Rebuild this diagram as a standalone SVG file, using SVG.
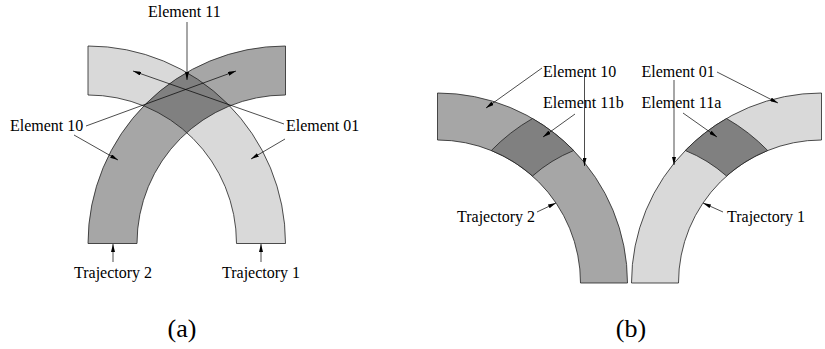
<svg xmlns="http://www.w3.org/2000/svg" width="825" height="349" viewBox="0 0 825 349">
<style>
.band{stroke:#222;stroke-width:0.8}
.light{fill:#d9d9d9}
.dark{fill:#a6a6a6}
.over{fill:#808080}
.edge{fill:none;stroke:#222;stroke-width:0.8}
.lbl{font-family:"Liberation Serif","Times New Roman",serif;font-size:16px;fill:#000}
.cap{font-family:"Liberation Serif","Times New Roman",serif;font-size:26px;fill:#000;text-anchor:middle}
.ar{stroke:#000;stroke-width:0.7;fill:none;marker-end:url(#ah)}
</style>
<defs>
<marker id="ah" viewBox="0 0 8 4" refX="8" refY="2" markerWidth="8" markerHeight="4" markerUnits="userSpaceOnUse" orient="auto"><path d="M0,0 L8,2 L0,4 Z" fill="#000"/></marker>
<path id="t1a" d="M88,46 A197.5,197.5 0 0 1 285.5,243.5 L236.5,243.5 A148.5,148.5 0 0 0 88,95 Z"/>
<path id="t2a" d="M88,243.5 A197.5,197.5 0 0 1 285.5,46 L285.5,95 A148.5,148.5 0 0 0 137,243.5 Z"/>
<clipPath id="clipDark"><use href="#t2a"/></clipPath>
</defs>

<!-- Panel (a) -->
<g id="traj1-a">
<use href="#t1a" class="light"/>
</g>
<g id="traj2-a">
<use href="#t2a" class="dark"/>
</g>
<g id="element11-a">
<use href="#t1a" class="over" clip-path="url(#clipDark)"/>
<use href="#t1a" class="edge"/>
<use href="#t2a" class="edge"/>
</g>

<!-- Panel (b) -->
<g id="traj2-b">
<path class="band dark" d="M437.5,93 A190,190 0 0 1 627.5,283 L580.5,283 A143,143 0 0 0 437.5,140 Z"/>
</g>
<g id="element11b">
<path class="band over" d="M532.5,118.5 A190,190 0 0 1 573.7,150.5 A143,143 0 0 0 532.5,176 A143,143 0 0 0 491.3,150.5 A190,190 0 0 1 532.5,118.5 Z"/>
</g>
<g id="traj1-b">
<path class="band light" d="M821.5,93 A190,190 0 0 0 631.5,283 L678.5,283 A143,143 0 0 1 821.5,140 Z"/>
</g>
<g id="element11a">
<path class="band over" d="M726.5,118.5 A190,190 0 0 0 685.3,150.5 A143,143 0 0 1 726.5,176 A143,143 0 0 1 767.7,150.5 A190,190 0 0 0 726.5,118.5 Z"/>
</g>

<g id="connectors">
<line class="ar" x1="187" y1="22" x2="187" y2="80"/>
<line class="ar" x1="86" y1="126" x2="236" y2="71"/>
<line class="ar" x1="74" y1="135" x2="118" y2="160"/>
<line class="ar" x1="284" y1="124" x2="133" y2="71"/>
<line class="ar" x1="285" y1="139" x2="251" y2="159"/>
<line class="ar" x1="113" y1="262" x2="113" y2="244"/>
<line class="ar" x1="261" y1="262" x2="261" y2="244"/>
<line class="ar" x1="542" y1="68" x2="486" y2="108"/>
<line class="ar" x1="584.5" y1="74" x2="584.5" y2="166"/>
<line class="ar" x1="575" y1="114" x2="543" y2="137"/>
<line class="ar" x1="717" y1="72" x2="778" y2="103"/>
<line class="ar" x1="674" y1="80" x2="674" y2="165"/>
<line class="ar" x1="683" y1="113" x2="717" y2="137"/>
<line class="ar" x1="537" y1="212" x2="556" y2="203"/>
<line class="ar" x1="723" y1="212" x2="703" y2="203"/>
</g>

<g id="labels">
<text class="lbl" x="148" y="17">Element 11</text>
<text class="lbl" x="10" y="131">Element 10</text>
<text class="lbl" x="286" y="131">Element 01</text>
<text class="lbl" x="74" y="278">Trajectory 2</text>
<text class="lbl" x="222" y="278">Trajectory 1</text>
<text class="lbl" x="543" y="77">Element 10</text>
<text class="lbl" x="543" y="108">Element 11b</text>
<text class="lbl" x="641.5" y="77">Element 01</text>
<text class="lbl" x="641.5" y="108">Element 11a</text>
<text class="lbl" x="457" y="222">Trajectory 2</text>
<text class="lbl" x="727" y="222">Trajectory 1</text>
<text class="cap" x="182" y="337">(a)</text>
<text class="cap" x="631" y="337">(b)</text>
</g>
</svg>
